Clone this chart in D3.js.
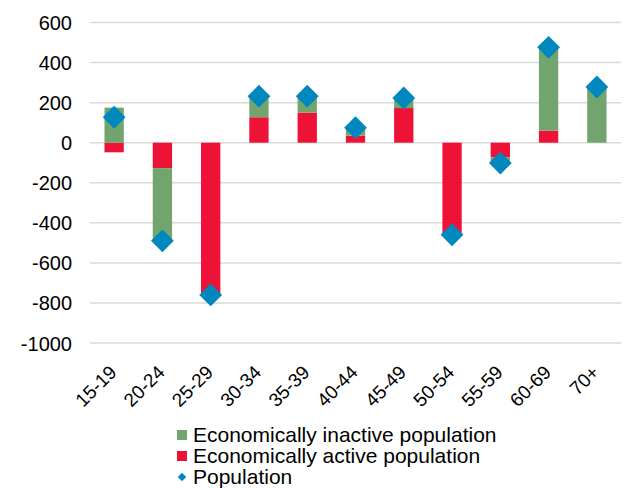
<!DOCTYPE html>
<html><head><meta charset="utf-8">
<script src="https://cdn.jsdelivr.net/npm/d3@7"></script>
<style>body{margin:0;background:#fff;} svg{display:block;font-family:"Liberation Sans",Arial,sans-serif;}</style>
</head><body>
<svg id="c" width="624" height="488"></svg>
<script>
const categories = ["15-19","20-24","25-29","30-34","35-39","40-44","45-49","50-54","55-59","60-69","70+"];
const active =   [-48, -127, -760, 127, 150, 35, 173, -460, -72, 60, 0];
const inactive = [175, -363, 0, 105, 82, 40, 50, 0, -30, 416, 278];
const population = [127, -490, -760, 232, 232, 75, 223, -460, -102, 476, 278];
const yTicks = [600,400,200,0,-200,-400,-600,-800,-1000];
const seriesNames = ["Economically inactive population","Economically active population","Population"];
const colors = {inactive:"#72A56E", active:"#EE1236", pop:"#0087BE"};

const svg = d3.select("#c");
const left = 90, right = 621;
const y = d3.scaleLinear().domain([-1000, 600]).range([343, 22.5]);
const x = d3.scaleBand().domain(categories).range([left, right]).paddingInner(0.6).paddingOuter(0.3);

// gridlines
svg.append("g").selectAll("line").data(yTicks).join("line")
  .attr("x1", left).attr("x2", right)
  .attr("y1", d => y(d)).attr("y2", d => y(d))
  .attr("stroke", "#D9D9D9").attr("stroke-width", 1.5);

// y axis labels
const yAxis = d3.axisLeft(y).tickValues(yTicks).tickSize(0).tickPadding(0).tickFormat(d => String(d));
const ya = svg.append("g").attr("transform", "translate(72,0)").call(yAxis);
ya.select(".domain").remove();
ya.selectAll("text").attr("font-size", 20).attr("fill", "#000").attr("font-family", "Liberation Sans, Arial, sans-serif").attr("dy", "0.35em");

// diverging stack
const rows = categories.map((c, i) => ({cat: c, active: active[i], inactive: inactive[i]}));
const stack = d3.stack().keys(["active", "inactive"]).offset(d3.stackOffsetDiverging);
const layers = stack(rows);
svg.append("g").selectAll("g").data(layers).join("g")
  .attr("fill", d => colors[d.key])
  .selectAll("rect").data(d => d).join("rect")
  .attr("x", d => x(d.data.cat))
  .attr("width", x.bandwidth())
  .attr("y", d => y(Math.max(d[0], d[1])))
  .attr("height", d => Math.abs(y(d[0]) - y(d[1])));

// population diamonds
const diamond = d3.symbol().type(d3.symbolSquare).size(260);
svg.append("g").selectAll("path").data(population).join("path")
  .attr("d", diamond)
  .attr("fill", colors.pop)
  .attr("transform", (d, i) => `translate(${x(categories[i]) + x.bandwidth()/2},${y(d)}) rotate(45)`);

// x labels
svg.append("g").selectAll("text").data(categories).join("text")
  .attr("transform", d => `translate(${x(d) + x.bandwidth()/2 - 6},${364}) rotate(-45)`)
  .attr("text-anchor", "end")
  .attr("dy", "0.71em")
  .attr("font-size", 19)
  .attr("fill", "#000")
  .text(d => d);

// legend
const lg = svg.append("g");
const lx = 177, ly = [435, 456, 477];
lg.append("rect").attr("x", lx).attr("y", ly[0]-5).attr("width", 10).attr("height", 10).attr("fill", colors.inactive);
lg.append("rect").attr("x", lx).attr("y", ly[1]-5).attr("width", 10).attr("height", 10).attr("fill", colors.active);
lg.append("path").attr("d", d3.symbol().type(d3.symbolSquare).size(36)).attr("fill", colors.pop)
  .attr("transform", `translate(${lx+5},${ly[2]}) rotate(45)`);
lg.selectAll("text").data(seriesNames).join("text")
  .attr("x", 193).attr("y", (d, i) => ly[i])
  .attr("dy", "0.35em").attr("font-size", 21).attr("fill", "#000")
  .text(d => d);
</script>
</body></html>
